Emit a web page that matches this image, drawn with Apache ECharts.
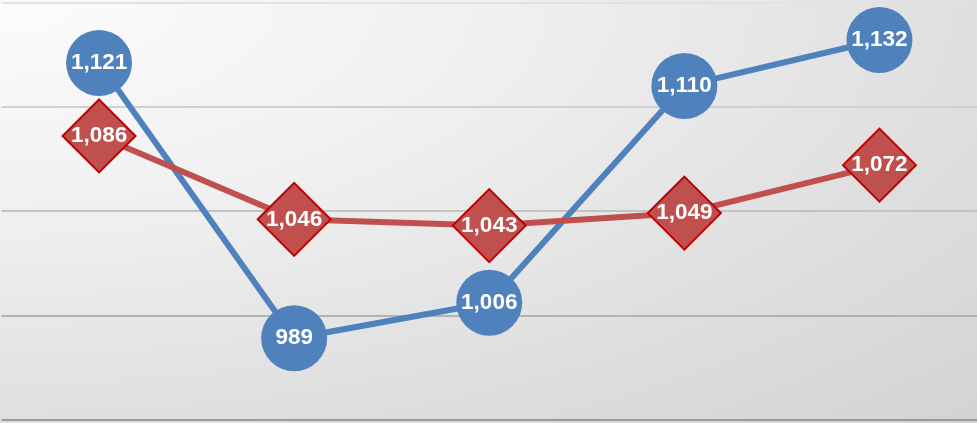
<!DOCTYPE html>
<html>
<head>
<meta charset="utf-8">
<script src="https://cdn.jsdelivr.net/npm/echarts@6/dist/echarts.min.js"></script>
<style>
html,body{margin:0;padding:0;}
#c{width:977px;height:423px;}
</style>
</head>
<body>
<div id="c"></div>
<script>
const categories = ['1', '2', '3', '4', '5'];
const blueValues = [1121, 989, 1006, 1110, 1132];
const redValues = [1086, 1046, 1043, 1049, 1072];
const yMin = 950, yMax = 1150, yStep = 50;

const W = 977, H = 423;
const chart = echarts.init(document.getElementById('c'), null, {renderer: 'canvas'});
const labelStyle = {
  show: true,
  position: 'inside',
  color: '#ffffff',
  fontFamily: 'Liberation Sans, Arial, sans-serif',
  fontWeight: 'bold',
  fontSize: 22.5,
  formatter: p => p.value.toLocaleString('en-US')
};
chart.setOption({
  animation: false,
  backgroundColor: '#e6e6e6',
  graphic: [{
    type: 'rect',
    x: 0, y: 0,
    scaleX: W / H,
    shape: {x: 0, y: 0, width: H, height: H},
    style: {
      fill: new echarts.graphic.RadialGradient(0, 0, 1.414, [
        {offset: 0, color: '#fcfcfc'},
        {offset: 0.36, color: '#f0f0f0'},
        {offset: 0.71, color: '#dfdfdf'},
        {offset: 1, color: '#d3d3d3'}
      ])
    },
    silent: true,
    z: -100
  }],
  grid: {left: 1.5, right: -0.5, top: 2.5, bottom: 3.5, containLabel: false},
  xAxis: {
    type: 'category',
    data: categories,
    boundaryGap: true,
    axisLine: {show: false},
    axisTick: {show: false},
    axisLabel: {show: false},
    splitLine: {show: false}
  },
  yAxis: {
    type: 'value',
    min: yMin, max: yMax, interval: yStep,
    axisLine: {show: false},
    axisTick: {show: false},
    axisLabel: {show: false},
    splitLine: {show: true, lineStyle: {width: 2, color: ['#9a9a9a', '#b2b2b2', '#c2c2c2', '#d0d0d0', '#e2e2e2']}}
  },
  series: [
    {
      type: 'line',
      data: blueValues,
      symbol: 'circle',
      symbolSize: 66,
      lineStyle: {color: '#4F81BD', width: 6},
      itemStyle: {color: '#4F81BD'},
      label: labelStyle,
      z: 2
    },
    {
      type: 'line',
      data: redValues,
      symbol: 'diamond',
      symbolSize: [73, 73],
      lineStyle: {color: '#C0504D', width: 6},
      itemStyle: {color: '#C0504D', borderColor: '#C00000', borderWidth: 2},
      label: labelStyle,
      z: 3
    }
  ]
});
</script>
</body>
</html>
